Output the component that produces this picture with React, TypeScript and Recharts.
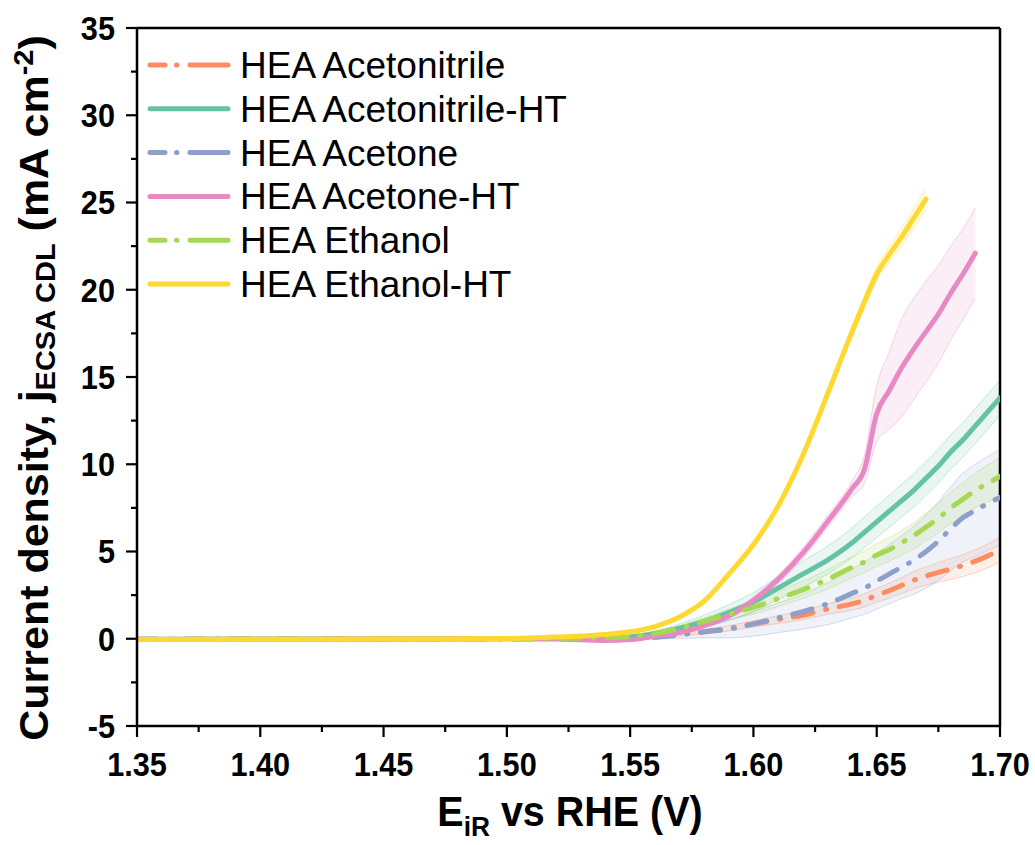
import React from 'react';
import { ComposedChart, Line, Area, XAxis, YAxis, ReferenceLine, Legend } from 'recharts';

// potential (V vs RHE) sampled along the scans
const voltage = [1.35, 1.40, 1.45, 1.50, 1.52, 1.54, 1.55, 1.56, 1.57, 1.58, 1.59, 1.60, 1.61, 1.62, 1.63, 1.64, 1.645, 1.65, 1.655, 1.66, 1.665, 1.67, 1.675, 1.68, 1.685, 1.69, 1.695, 1.70];

// current density (mA cm-2), mean curves
const acetonitrile = [-0.03, -0.02, -0.02, 0.0, 0.0, 0.0, 0.0, 0.1, 0.25, 0.4, 0.6, 0.85, 1.1, 1.35, 1.7, 2.0, 2.2, 2.5, 2.75, 3.05, 3.35, 3.6, 3.8, 4.0, 4.2, 4.45, 4.75, 5.1];
const acetonitrileHT = [-0.03, -0.02, -0.01, 0.0, 0.01, 0.03, 0.1, 0.3, 0.6, 1.0, 1.5, 2.1, 2.9, 3.7, 4.5, 5.5, 6.1, 6.7, 7.3, 7.9, 8.5, 9.2, 9.9, 10.7, 11.4, 12.2, 13.0, 13.8];
const acetone = [-0.03, -0.02, -0.02, 0.0, 0.0, 0.0, 0.0, 0.08, 0.22, 0.4, 0.55, 0.85, 1.2, 1.55, 2.0, 2.6, 2.9, 3.3, 3.7, 4.1, 4.5, 5.0, 5.6, 6.3, 6.95, 7.35, 7.75, 8.1];
const acetoneHT = [-0.04, -0.03, -0.02, 0.0, -0.02, -0.1, -0.05, 0.15, 0.35, 0.75, 1.3, 2.2, 3.4, 4.9, 6.7, 8.6, 9.7, 12.9, 14.2, 15.5, 16.6, 17.6, 18.6, 19.8, 20.9, 22.1, null, null];
const ethanol = [-0.03, -0.02, -0.01, 0.0, 0.02, 0.05, 0.12, 0.3, 0.6, 1.0, 1.4, 1.8, 2.3, 2.8, 3.4, 4.1, 4.4, 4.8, 5.1, 5.5, 5.9, 6.4, 6.9, 7.5, 8.0, 8.5, 8.9, 9.3];
const ethanolHT = [-0.05, -0.03, -0.02, 0.02, 0.1, 0.25, 0.4, 0.7, 1.25, 2.15, 3.7, 5.4, 7.6, 10.5, 14.0, 17.6, 19.3, 20.9, 22.0, 23.0, 24.1, 25.2, null, null, null, null, null, null];

// half width of the shaded spread around each curve
const acetonitrileSpread = [0.02, 0.02, 0.02, 0.02, 0.03, 0.04, 0.05, 0.08, 0.1, 0.12, 0.15, 0.18, 0.22, 0.26, 0.3, 0.35, 0.38, 0.4, 0.43, 0.46, 0.5, 0.53, 0.56, 0.6, 0.63, 0.66, 0.68, 0.7];
const acetonitrileHTSpread = [0.02, 0.02, 0.02, 0.02, 0.03, 0.04, 0.06, 0.15, 0.25, 0.35, 0.45, 0.55, 0.65, 0.75, 0.8, 0.85, 0.88, 0.9, 0.92, 0.94, 0.95, 0.96, 0.97, 0.98, 0.99, 1.0, 1.0, 1.0];
const acetoneSpread = [0.02, 0.02, 0.02, 0.02, 0.03, 0.04, 0.05, 0.1, 0.2, 0.35, 0.5, 0.7, 0.85, 1.0, 1.2, 1.4, 1.5, 1.6, 1.7, 1.8, 1.95, 2.1, 2.25, 2.4, 2.55, 2.65, 2.7, 2.75];
const acetoneHTSpread = [0.02, 0.02, 0.02, 0.02, 0.03, 0.05, 0.06, 0.08, 0.1, 0.12, 0.15, 0.2, 0.25, 0.3, 0.35, 0.45, 0.8, 1.6, 2.2, 2.8, 2.9, 2.9, 2.8, 2.7, 2.6, 2.6, null, null];
const ethanolSpread = [0.02, 0.02, 0.02, 0.02, 0.03, 0.04, 0.05, 0.1, 0.15, 0.2, 0.3, 0.4, 0.45, 0.5, 0.55, 0.6, 0.62, 0.65, 0.68, 0.7, 0.75, 0.8, 0.85, 0.9, 0.95, 1.0, 1.05, 1.1];
const ethanolHTSpread = [0.02, 0.02, 0.02, 0.02, 0.02, 0.02, 0.02, 0.05, 0.06, 0.08, 0.1, 0.12, 0.15, 0.2, 0.25, 0.3, 0.35, 0.4, 0.45, 0.5, 0.55, 0.6, null, null, null, null, null, null];

const xMajorTicks = [1.35, 1.40, 1.45, 1.50, 1.55, 1.60, 1.65, 1.70];
const xMinorTicks = [1.375, 1.425, 1.475, 1.525, 1.575, 1.625, 1.675];
const yMajorTicks = [-5, 0, 5, 10, 15, 20, 25, 30, 35];
const yMinorTicks = [-2.5, 2.5, 7.5, 12.5, 17.5, 22.5, 27.5, 32.5];

const series = [
  { key: 'acetonitrile', name: 'HEA Acetonitrile', color: '#fc8d62', dashed: true, values: acetonitrile, spread: acetonitrileSpread },
  { key: 'acetonitrileHT', name: 'HEA Acetonitrile-HT', color: '#66c2a5', dashed: false, values: acetonitrileHT, spread: acetonitrileHTSpread },
  { key: 'acetone', name: 'HEA Acetone', color: '#8da0cb', dashed: true, values: acetone, spread: acetoneSpread },
  { key: 'acetoneHT', name: 'HEA Acetone-HT', color: '#e78ac3', dashed: false, values: acetoneHT, spread: acetoneHTSpread },
  { key: 'ethanol', name: 'HEA Ethanol', color: '#a6d854', dashed: true, values: ethanol, spread: ethanolSpread },
  { key: 'ethanolHT', name: 'HEA Ethanol-HT', color: '#ffd92f', dashed: false, values: ethanolHT, spread: ethanolHTSpread },
];

const data = voltage.map((v, i) => {
  const row: any = { v };
  series.forEach((s) => {
    const y = s.values[i];
    const sp = s.spread[i];
    row[s.key] = y;
    row[s.key + 'Band'] = y == null || sp == null ? null : [y - sp, y + sp];
  });
  return row;
});

const FONT = '"Liberation Sans", Arial, Helvetica, sans-serif';
const DASH = '20 13 1 13';

const isIn = (list: number[], v: number) => list.some((t) => Math.abs(t - v) < 1e-6);

const XTick = (props: any) => {
  const { x, y, payload } = props;
  const major = isIn(xMajorTicks, payload.value);
  return (
    <g>
      <line x1={x} x2={x} y1={y} y2={y + (major ? 11 : 6)} stroke="#000" strokeWidth={2.2} />
      {major && (
        <text
          x={x}
          y={y + 50}
          textAnchor="middle"
          fontSize={33}
          fontWeight="bold"
          fontFamily={FONT}
          fill="#000"
          transform={`translate(${x} 0) scale(0.93 1) translate(${-x} 0)`}
        >
          {payload.value.toFixed(2)}
        </text>
      )}
    </g>
  );
};

const YTick = (props: any) => {
  const { x, y, payload } = props;
  const major = isIn(yMajorTicks, payload.value);
  const tx = x - 22;
  return (
    <g>
      <line x1={x - (major ? 11 : 6)} x2={x} y1={y} y2={y} stroke="#000" strokeWidth={2.2} />
      {major && (
        <text
          x={tx}
          y={y + 12}
          textAnchor="end"
          fontSize={33}
          fontWeight="bold"
          fontFamily={FONT}
          fill="#000"
          transform={`translate(${tx} 0) scale(0.93 1) translate(${-tx} 0)`}
        >
          {payload.value}
        </text>
      )}
    </g>
  );
};

// legend keeps the plotting order, not recharts' alphabetical sort
const renderLegend = (props: any) => {
  const keys = new Set((props.payload || []).map((p: any) => p.dataKey));
  const items = series.filter((s) => keys.has(s.key));
  return (
    <svg width={1035} height={845} style={{ position: 'absolute', left: 0, top: 0 }}>
      {items.map((s, i) => {
        const cy = 65 + i * 43.8;
        return (
          <g key={s.key}>
            {s.dashed ? (
              <g stroke={s.color} strokeWidth={5} strokeLinecap="round">
                <line x1={150} x2={165} y1={cy} y2={cy} />
                <line x1={176.5} x2={177} y1={cy} y2={cy} />
                <line x1={190} x2={228} y1={cy} y2={cy} />
              </g>
            ) : (
              <line x1={150} x2={228} y1={cy} y2={cy} stroke={s.color} strokeWidth={5} strokeLinecap="round" />
            )}
            <text x={240} y={cy + 13} fontSize={37} fontFamily={FONT} fill="#000">
              {s.name}
            </text>
          </g>
        );
      })}
    </svg>
  );
};

export default function App() {
  return (
    <div style={{ position: 'absolute', left: 0, top: 0, width: 1035, height: 845, background: '#fff' }}>
      <ComposedChart width={1035} height={845} data={data} margin={{ top: 28, right: 35, left: 0, bottom: 0 }}>
        <XAxis
          dataKey="v"
          type="number"
          domain={[1.35, 1.7]}
          allowDataOverflow
          ticks={[...xMajorTicks, ...xMinorTicks]}
          interval={0}
          height={119}
          tickSize={0}
          tickMargin={0}
          tickLine={false}
          axisLine={{ stroke: '#000', strokeWidth: 2.5 }}
          tick={(p: any) => <XTick {...p} />}
        />
        <YAxis
          type="number"
          domain={[-5, 35]}
          allowDataOverflow
          ticks={[...yMajorTicks, ...yMinorTicks]}
          interval={0}
          width={137}
          tickSize={0}
          tickMargin={0}
          tickLine={false}
          axisLine={{ stroke: '#000', strokeWidth: 2.5 }}
          tick={(p: any) => <YTick {...p} />}
        />
        <ReferenceLine y={35} stroke="#000" strokeWidth={2.5} />
        <ReferenceLine x={1.7} stroke="#000" strokeWidth={2.5} />
        {series.map((s) => [
          <Area
            key={s.key + 'Band'}
            dataKey={s.key + 'Band'}
            type="monotone"
            fill={s.color}
            fillOpacity={0.14}
            stroke={s.color}
            strokeOpacity={0.35}
            strokeWidth={1}
            legendType="none"
            isAnimationActive={false}
            connectNulls={false}
            dot={false}
            activeDot={false}
          />,
          <Line
            key={s.key}
            dataKey={s.key}
            name={s.name}
            type="monotone"
            stroke={s.color}
            strokeWidth={5}
            strokeDasharray={s.dashed ? DASH : undefined}
            strokeLinecap="round"
            dot={false}
            activeDot={false}
            isAnimationActive={false}
            connectNulls={false}
          />,
        ])}
        <Legend
          layout="horizontal"
          verticalAlign="middle"
          align="center"
          wrapperStyle={{ position: 'absolute', left: 0, top: 0, width: 1035, height: 845, pointerEvents: 'none' }}
          content={renderLegend}
        />
      </ComposedChart>
      <svg width={1035} height={845} style={{ position: 'absolute', left: 0, top: 0, pointerEvents: 'none' }}>
        <text
          textAnchor="middle"
          fontSize={43}
          fontWeight="bold"
          fontFamily={FONT}
          fill="#000"
          transform="translate(48 388) scale(0.94 1) rotate(-90)"
        >
          Current density, j
          <tspan fontSize={29} dy={7}>ECSA CDL</tspan>
          <tspan dy={-7}> (mA cm</tspan>
          <tspan fontSize={29} dy={-16}>-2</tspan>
          <tspan dy={16}>)</tspan>
        </text>
        <text
          x={570}
          y={826}
          textAnchor="middle"
          fontSize={42}
          fontWeight="bold"
          fontFamily={FONT}
          fill="#000"
          transform="translate(570 0) scale(0.94 1) translate(-570 0)"
        >
          E
          <tspan fontSize={28} dy={10}>iR</tspan>
          <tspan dy={-10}> vs RHE (V)</tspan>
        </text>
      </svg>
    </div>
  );
}
